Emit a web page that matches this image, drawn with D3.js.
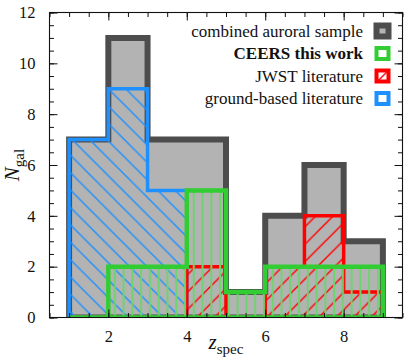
<!DOCTYPE html>
<html>
<head>
<meta charset="utf-8">
<script src="https://cdn.jsdelivr.net/npm/d3@7"></script>
<style>
  body { margin: 0; background: #fff; }
  svg text { font-family: "Liberation Serif", "DejaVu Serif", serif; fill: #111; }
</style>
</head>
<body>
<div id="chart"></div>
<script>
// histogram bins (redshift), counts per bin
const binEdges = [1, 2, 3, 4, 5, 6, 7, 8, 9];
const combined = [7, 11, 7, 7, 1, 4, 6, 3];
const ceers    = [0, 2, 2, 5, 1, 2, 2, 2];
const jwst     = [0, 0, 0, 2, 0, 2, 4, 1];
const ground   = [7, 9, 5, 0, 0, 0, 0, 0];

const xTicks = [2, 4, 6, 8];
const yTicks = [0, 2, 4, 6, 8, 10, 12];
const legendLabels = ["combined auroral sample", "CEERS this work", "JWST literature", "ground-based literature"];

// Set up dimensions
const W = 415, H = 363;
const margin = {top: 12.5, right: 12.5, bottom: 45.5, left: 49.5};
const width = W - margin.left - margin.right;
const height = H - margin.top - margin.bottom;
const serif = '"Liberation Serif", "DejaVu Serif", serif';

const svg = d3.select("#chart").append("svg")
    .attr("width", W)
    .attr("height", H);

const defs = svg.append("defs");

// hatch patterns
function diagPattern(id, color, dir) {
    const s = 17.4;
    const p = defs.append("pattern")
        .attr("id", id)
        .attr("patternUnits", "userSpaceOnUse")
        .attr("width", s).attr("height", s);
    const d = dir > 0
        ? `M0,${s} L${s},0 M-2,2 L2,-2 M${s - 2},${s + 2} L${s + 2},${s - 2}`
        : `M0,0 L${s},${s} M-2,${s - 2} L2,${s + 2} M${s - 2},-2 L${s + 2},2`;
    p.append("path").attr("d", d)
        .attr("stroke", color).attr("stroke-width", 1.4).attr("fill", "none");
}
diagPattern("hatch-red", "#ff0000", 1);
diagPattern("hatch-blue", "#1e90ff", -1);

const vp = defs.append("pattern")
    .attr("id", "hatch-green")
    .attr("patternUnits", "userSpaceOnUse")
    .attr("width", 8.77).attr("height", 10);
vp.append("line")
    .attr("x1", 4).attr("x2", 4).attr("y1", 0).attr("y2", 10)
    .attr("stroke", "#6ed46e").attr("stroke-width", 2);

defs.append("clipPath").attr("id", "plot-clip")
    .append("rect").attr("width", width).attr("height", height);

const g = svg.append("g")
    .attr("transform", `translate(${margin.left},${margin.top})`);

// Set up scales
const x = d3.scaleLinear().domain([0.5, 9.5]).range([0, width]);
const y = d3.scaleLinear().domain([0, 12]).range([height, 0]);

function stepPath(counts) {
    const pts = [[binEdges[0], 0]];
    counts.forEach((c, i) => {
        pts.push([binEdges[i], c]);
        pts.push([binEdges[i + 1], c]);
    });
    pts.push([binEdges[binEdges.length - 1], 0]);
    return d3.line().x(d => x(d[0])).y(d => y(d[1]))(pts) + "Z";
}

const hists = g.append("g").attr("clip-path", "url(#plot-clip)");

const series = [
    {data: combined, fill: "#b3b3b3", stroke: "#4d4d4d", sw: 6},
    {data: ground, fill: "url(#hatch-blue)", stroke: "#1e90ff", sw: 3.5},
    {data: jwst, fill: "url(#hatch-red)", stroke: "#ff0000", sw: 3.5},
    {data: ceers, fill: "url(#hatch-green)", stroke: "#32cd32", sw: 4.5}
];

series.forEach(s => {
    hists.append("path")
        .attr("d", stepPath(s.data))
        .attr("fill", s.fill)
        .attr("stroke", s.stroke)
        .attr("stroke-width", s.sw)
        .attr("stroke-linejoin", "miter");
});

// Axes (ticks inward on all four sides)
function styleAxis(sel) {
    sel.attr("font-family", serif).attr("font-size", 16.5);
    sel.select(".domain").remove();
    sel.selectAll("line").attr("stroke", "#111").attr("stroke-width", 1);
    sel.selectAll("text").style("font-family", serif).attr("fill", "#111");
}
const xMinor = d3.range(0.5, 9.51, 0.5);
const yMinor = d3.range(0, 12.01, 0.5);

g.append("g").attr("transform", `translate(0,${height})`)
    .call(d3.axisBottom(x).tickValues(xMinor).tickSize(-4.5).tickFormat(""))
    .call(styleAxis);
g.append("g").attr("transform", `translate(0,${height})`)
    .call(d3.axisBottom(x).tickValues(xTicks).tickSize(-8).tickPadding(13).tickFormat(d3.format("d")))
    .call(styleAxis);
g.append("g")
    .call(d3.axisTop(x).tickValues(xMinor).tickSize(-4.5).tickFormat(""))
    .call(styleAxis);
g.append("g")
    .call(d3.axisTop(x).tickValues(xTicks).tickSize(-8).tickFormat(""))
    .call(styleAxis);

g.append("g")
    .call(d3.axisLeft(y).tickValues(yMinor).tickSize(-4.5).tickFormat(""))
    .call(styleAxis);
g.append("g")
    .call(d3.axisLeft(y).tickValues(yTicks).tickSize(-8).tickPadding(14).tickFormat(d3.format("d")))
    .call(styleAxis);
g.append("g").attr("transform", `translate(${width},0)`)
    .call(d3.axisRight(y).tickValues(yMinor).tickSize(-4.5).tickFormat(""))
    .call(styleAxis);
g.append("g").attr("transform", `translate(${width},0)`)
    .call(d3.axisRight(y).tickValues(yTicks).tickSize(-8).tickFormat(""))
    .call(styleAxis);

g.append("rect")
    .attr("width", width).attr("height", height)
    .attr("fill", "none").attr("stroke", "#111").attr("stroke-width", 1.1);

// Axis labels
const xl = svg.append("text")
    .attr("x", margin.left + width / 2)
    .attr("y", 349)
    .attr("text-anchor", "middle")
    .attr("font-size", 21);
xl.append("tspan").attr("font-style", "italic").text("z");
xl.append("tspan").attr("font-size", 15).attr("dy", 5).text("spec");

const yl = svg.append("text")
    .attr("transform", `translate(19,${margin.top + height / 2}) rotate(-90)`)
    .attr("text-anchor", "middle")
    .attr("font-size", 21);
yl.append("tspan").attr("font-style", "italic").text("N");
yl.append("tspan").attr("font-size", 15).attr("dy", 5).text("gal");

// Legend
const legendStyles = [
    {fill: "#b3b3b3", stroke: "#4d4d4d", sw: 6},
    {fill: "#fff", stroke: "#32cd32", sw: 4},
    {fill: "url(#hatch-red)", stroke: "#ff0000", sw: 4},
    {fill: "#fff", stroke: "#1e90ff", sw: 4}
];

const legend = svg.append("g")
    .selectAll("g")
    .data(legendLabels)
    .enter().append("g")
    .attr("transform", (d, i) => `translate(0,${31 + i * 22.5})`);

legend.append("rect")
    .attr("x", 376.5).attr("y", -5.5)
    .attr("width", 12).attr("height", 11)
    .attr("fill", (d, i) => legendStyles[i].fill)
    .attr("stroke", (d, i) => legendStyles[i].stroke)
    .attr("stroke-width", (d, i) => legendStyles[i].sw);

legend.append("text")
    .attr("x", 363)
    .attr("y", 0)
    .attr("dy", "0.33em")
    .attr("text-anchor", "end")
    .attr("font-size", 17)
    .attr("font-weight", (d, i) => i === 1 ? "bold" : "normal")
    .text(d => d);
</script>
</body>
</html>
